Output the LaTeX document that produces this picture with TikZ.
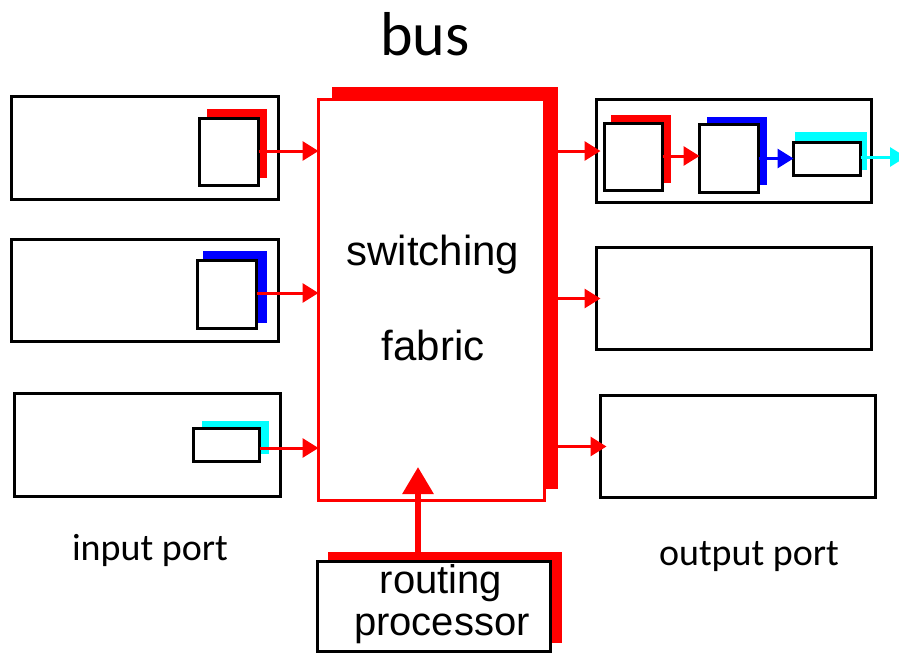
\documentclass[tikz,border=0pt]{standalone}
\usepackage{fontspec}
\setmainfont{Liberation Sans}
\newfontfamily\calfont{Carlito}
\usetikzlibrary{arrows.meta}
\definecolor{pred}{RGB}{255,0,0}
\definecolor{pblue}{RGB}{0,0,255}
\definecolor{pcyan}{RGB}{0,255,255}
\begin{document}
\begin{tikzpicture}[x=1pt,y=-1pt,
  bx/.style 2 args={rectangle,draw=black,line width=3pt,fill=white,inner sep=0pt,outer sep=0pt,minimum width=#1,minimum height=#2},
  sh/.style n args={3}{rectangle,fill=#1,draw=none,inner sep=0pt,outer sep=0pt,minimum width=#2,minimum height=#3},
  flow/.style={draw=#1,line width=3pt,-{Triangle[length=16pt,width=19pt]}},
  flow/.default=pred,
  lbl/.style={anchor=base,inner sep=0pt}]
\useasboundingbox (0,0) rectangle (899,656);

% title
\node[lbl] (bus) at (425,55) {\calfont\fontsize{62}{70}\selectfont bus};

% input ports
\node[bx={267pt}{103pt}] (in1) at (145,148) {};
\node[bx={267pt}{102pt}] (in2) at (145,290.5) {};
\node[bx={266pt}{103pt}] (in3) at (147.5,445) {};
\node[sh={pred}{60pt}{69pt}] (in1s) at (237,143.5) {};
\node[bx={59pt}{67pt}] (in1q) at (229,152) {};
\node[sh={pblue}{64pt}{72pt}] (in2s) at (235,287) {};
\node[bx={59pt}{68pt}] (in2q) at (227,294.5) {};
\node[sh={pcyan}{67pt}{33pt}] (in3s) at (235.5,437.5) {};
\node[bx={66pt}{33pt}] (in3q) at (226.5,445) {};

% switching fabric
\node[sh={pred}{226pt}{402pt}] (fabs) at (445,288) {};
\node[rectangle,draw=pred,line width=3pt,fill=white,inner sep=0pt,outer sep=0pt,minimum width=226pt,minimum height=401pt] (fab) at (431.5,300) {};
\node[lbl] (sw) at (433,265) {\fontsize{42}{50}\selectfont switching};
\node[lbl] (fb) at (433,360) {\fontsize{42}{50}\selectfont fabric};

% routing processor
\node[sh={pred}{234pt}{91pt}] (rps) at (445,597.5) {};
\node[bx={233pt}{90pt}] (rp) at (434,606.5) {};
\node[lbl] (rp1) at (441,593) {\fontsize{40}{48}\selectfont routing};
\node[lbl] (rp2) at (442,635) {\fontsize{40}{48}\selectfont processor};
\coordinate (rtip) at (418,467);
\draw[pred,line width=6pt,-{Triangle[length=27pt,width=30pt]}] (rtip |- rps.north) -- (rtip);

% output ports
\node[bx={275pt}{103pt}] (out1) at (734,151) {};
\node[bx={275pt}{102pt}] (out2) at (734,298.5) {};
\node[bx={275pt}{102pt}] (out3) at (738,446.5) {};
\node[sh={pred}{60pt}{68pt}] (q1s) at (641,149) {};
\node[bx={58pt}{67pt}] (q1) at (633.5,157) {};
\node[sh={pblue}{60pt}{68pt}] (q2s) at (737,151) {};
\node[bx={59pt}{68pt}] (q2) at (729,158.5) {};
\node[sh={pcyan}{72pt}{38pt}] (q3s) at (831,151) {};
\node[bx={67pt}{33pt}] (q3) at (827,159) {};
\coordinate (exit) at (906,157);

% labels
\node[lbl] (inl) at (150,560) {\calfont\fontsize{38}{46}\selectfont input port};
\node[lbl] (outl) at (749,565) {\calfont\fontsize{38}{46}\selectfont output port};

% input arrows
\draw[flow] ([yshift=1pt]in1q.east) -- ([yshift=1pt]in1q.east -| fab.west);
\draw[flow] ([yshift=1.5pt]in2q.east) -- ([yshift=1.5pt]in2q.east -| fab.west);
\draw[flow] ([yshift=-3pt]in3q.east) -- ([yshift=-3pt]in3q.east -| fab.west);

% fabric to output arrows
\draw[flow] (fabs.east |- out1.west) -- ([xshift=4pt]out1.west);
\draw[flow] (fabs.east |- out2.west) -- ([xshift=4pt]out2.west);
\draw[flow] (fabs.east |- out3.west) -- ([xshift=6pt]out3.west);

% output queue arrows
\draw[flow] ([yshift=1pt]q1.east) -- ([yshift=1pt]q1.east -| q2.west);
\draw[flow=pblue] (q2.east) -- (q2.east -| q3.west);
\draw[flow=pcyan] ([yshift=2pt]q3.east) -- (exit);
\end{tikzpicture}
\end{document}
